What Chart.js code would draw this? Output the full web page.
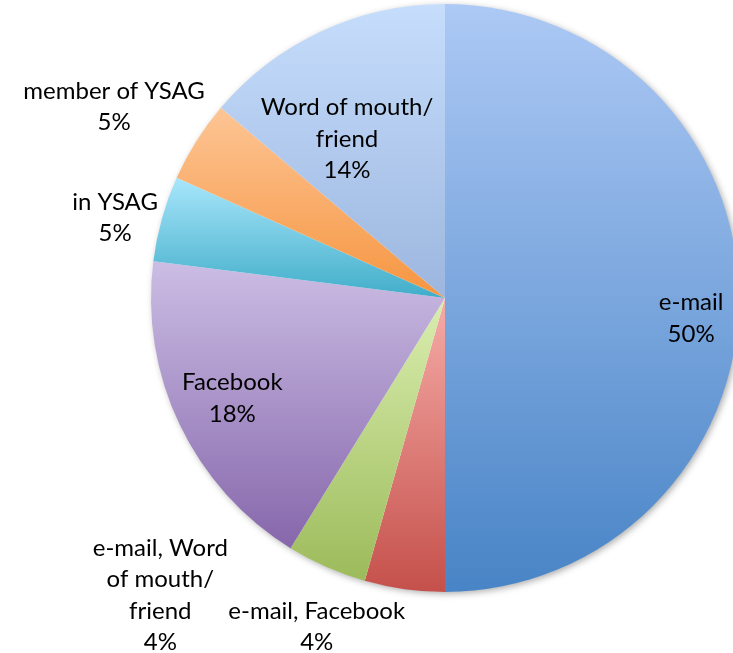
<!DOCTYPE html>
<html>
<head>
<meta charset="utf-8">
<script src="https://cdn.jsdelivr.net/npm/chart.js@4.4.1/dist/chart.umd.min.js"></script>
<style>
  html, body { margin: 0; padding: 0; background: #fff; overflow: hidden; }
  #wrap { position: relative; width: 890px; height: 653px; }
</style>
</head>
<body>
<div id="wrap"><canvas id="pie"></canvas></div>
<script>
// how people heard about it
const labels = ['e-mail', 'e-mail, Facebook', 'e-mail, Word of mouth/ friend', 'Facebook', 'in YSAG', 'member of YSAG', 'Word of mouth/ friend'];
const shares = [50, 4.4, 4.4, 18.2, 4.7, 4.5, 13.8];
// label text split into lines, as in the original
const labelLines = [
  ['e-mail'],
  ['e-mail, Facebook'],
  ['e-mail, Word', 'of mouth/', 'friend'],
  ['Facebook'],
  ['in YSAG'],
  ['member of YSAG'],
  ['Word of mouth/', 'friend'],
];
const topColors = ['#adc9f5', '#f6aca8', '#daeeb0', '#cbbde4', '#a8e6fb', '#fdc595', '#c6ddfc'];
const bottomColors = ['#4884c6', '#c5504b', '#9cbb5a', '#8667ab', '#41adc9', '#f69540', '#9cb6de'];
// label placement: radius as fraction of pie radius, angle shift from slice middle (deg)
const labelRadius = [0.84, 1.20, 1.40, 0.80, 1.155, 1.30, 0.635];
const labelShift = [4.7, 13.4, 20, 0.3, -2, -2.2, -6.8];

const total = shares.reduce((a, b) => a + b, 0);

function sliceAngles(i) {
  let before = 0;
  for (let k = 0; k < i; k++) before += shares[k];
  const a0 = -Math.PI / 2 + before / total * Math.PI * 2;
  const a1 = a0 + shares[i] / total * Math.PI * 2;
  return [a0, a1];
}

function sliceGradient(ctx) {
  const chart = ctx.chart;
  const area = chart.chartArea;
  if (!area) return topColors[ctx.dataIndex];
  const i = ctx.dataIndex;
  const cy = (area.top + area.bottom) / 2;
  const r = Math.min(area.right - area.left, area.bottom - area.top) / 2;
  const [a0, a1] = sliceAngles(i);
  const ys = [cy, cy + r * Math.sin(a0), cy + r * Math.sin(a1)];
  // include top / bottom of the circle when the slice spans them
  [-Math.PI / 2, Math.PI / 2, 3 * Math.PI / 2].forEach((a) => {
    if (a >= a0 && a <= a1) ys.push(cy + r * Math.sin(a));
  });
  const y0 = Math.min(...ys), y1 = Math.max(...ys);
  const g = chart.ctx.createLinearGradient(0, y0, 0, y1);
  g.addColorStop(0, topColors[i]);
  g.addColorStop(1, bottomColors[i]);
  return g;
}

const shadowPlugin = {
  id: 'pieShadow',
  beforeDatasetsDraw(chart) {
    const arc = chart.getDatasetMeta(0).data[0];
    if (!arc) return;
    const c = chart.ctx;
    c.save();
    c.shadowColor = 'rgba(0,0,0,0.35)';
    c.shadowBlur = 7;
    c.shadowOffsetX = 2;
    c.shadowOffsetY = 2;
    c.fillStyle = '#fff';
    c.beginPath();
    c.arc(arc.x, arc.y, arc.outerRadius - 0.5, 0, Math.PI * 2);
    c.fill();
    c.restore();
  },
};

const labelPlugin = {
  id: 'sliceLabels',
  afterDatasetsDraw(chart) {
    const c = chart.ctx;
    const meta = chart.getDatasetMeta(0);
    c.save();
    c.font = '24px Lato, "Open Sans", sans-serif';
    c.fillStyle = '#000';
    c.textAlign = 'center';
    c.textBaseline = 'middle';
    const lh = 31.5;
    meta.data.forEach((arc, i) => {
      const mid = (arc.startAngle + arc.endAngle) / 2 + labelShift[i] * Math.PI / 180;
      const rr = arc.outerRadius * labelRadius[i];
      const x = arc.x + Math.cos(mid) * rr;
      const y = arc.y + Math.sin(mid) * rr;
      const lines = labelLines[i].concat([Math.round(shares[i] / total * 100) + '%']);
      const top = y - (lines.length - 1) * lh / 2;
      lines.forEach((t, k) => c.fillText(t, x, top + k * lh));
    });
    c.restore();
  },
};

new Chart(document.getElementById('pie'), {
  type: 'pie',
  data: {
    labels,
    datasets: [{
      data: shares,
      backgroundColor: sliceGradient,
      borderWidth: 0,
    }],
  },
  options: {
    responsive: true,
    maintainAspectRatio: false,
    animation: false,
    events: [],
    layout: { padding: { top: 4, bottom: 61, left: 0, right: 0 } },
    plugins: { legend: { display: false }, tooltip: { enabled: false } },
  },
  plugins: [shadowPlugin, labelPlugin],
});
</script>
</body>
</html>
